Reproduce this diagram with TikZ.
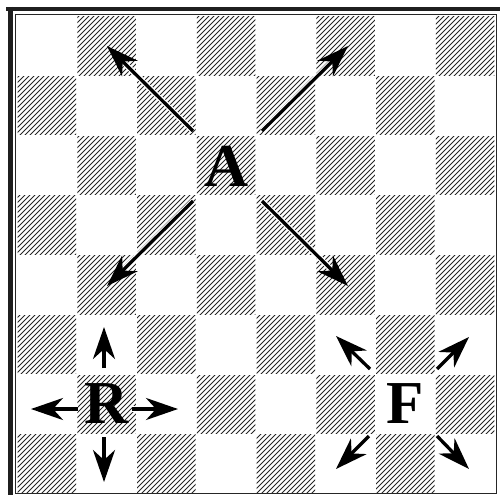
\documentclass[tikz,border=0pt]{standalone}
\usepackage{fontspec}
\setmainfont{Liberation Serif}
\usetikzlibrary{arrows.meta}
\tikzset{
  frameline/.style={draw=black!85, line width=1pt},
  thickframe/.style={draw=black!88, line width=4.5pt},
  hatch/.style={draw=black!85, line width=1.0pt},
  halo/.style={draw=white, line width=5.5pt, shorten >=24pt},
  movearrow/.style={draw=black, line width=3.3pt, -{Stealth[length=32pt, width=22pt, inset=10pt]}},
  piece/.style={inner sep=0pt, font=\fontsize{61}{61}\selectfont\bfseries}
}
\begin{document}
\begin{tikzpicture}[x=1pt,y=-1pt]
\useasboundingbox (0,0) rectangle (500,495);
\fill[white] (0,0) rectangle (500,495);
% hatched squares
\foreach \c in {0,...,7}{
  \foreach \r in {0,...,7}{
    \pgfmathtruncatemacro\odd{mod(\c+\r,2)}
    \ifnum\odd=1
      \pgfmathsetmacro\xa{17+\c*59.75}
      \pgfmathsetmacro\ya{16+\r*59.75}
      \pgfmathsetmacro\cs{5*floor((\xa+\ya)/5)}
      \begin{scope}
        \clip (\xa+0.6,\ya+0.6) rectangle ++(58.55,58.55);
        \foreach \k in {-1,...,25}{
          \pgfmathsetmacro\cc{\cs+\k*5}
          \draw[hatch] (\cc-\ya-61,\ya+61) -- (\cc-\ya+1,\ya-1);
        }
      \end{scope}
    \fi
  }
}
% frame
\draw[thickframe] (6,9) -- (500,9);
\draw[thickframe] (10.5,7) -- (10.5,495);
\draw[frameline] (15,14.5) -- (496,14.5) -- (496,493.5) -- (15,493.5) -- cycle;
% pieces
\node[piece] (A) at (227,166) {A};
\node[piece] (R) at (106.5,404) {R};
\node[piece] (F) at (405,404) {F};
% arrow endpoints
\coordinate (a1t) at (193,131); \coordinate (a1h) at (107,46);
\coordinate (a2t) at (262,131); \coordinate (a2h) at (348,46);
\coordinate (a3t) at (193,201); \coordinate (a3h) at (107,286);
\coordinate (a4t) at (262,201); \coordinate (a4h) at (348,286);
\coordinate (r1t) at (104,368); \coordinate (r1h) at (104,327);
\coordinate (r2t) at (78,409);  \coordinate (r2h) at (31,409);
\coordinate (r3t) at (132,409); \coordinate (r3h) at (178,409);
\coordinate (r4t) at (104,437); \coordinate (r4h) at (104,482);
\coordinate (f1t) at (370,369); \coordinate (f1h) at (336,336);
\coordinate (f2t) at (437,369); \coordinate (f2h) at (469,337);
\coordinate (f3t) at (369,436); \coordinate (f3h) at (336,469);
\coordinate (f4t) at (437,436); \coordinate (f4h) at (469,469);
\foreach \t/\h in {a1t/a1h,a2t/a2h,a3t/a3h,a4t/a4h,r1t/r1h,r2t/r2h,r3t/r3h,r4t/r4h,f1t/f1h,f2t/f2h,f3t/f3h,f4t/f4h}{
  \draw[halo] (\t) -- (\h);
}
\foreach \t/\h in {a1t/a1h,a2t/a2h,a3t/a3h,a4t/a4h,r1t/r1h,r2t/r2h,r3t/r3h,r4t/r4h,f1t/f1h,f2t/f2h,f3t/f3h,f4t/f4h}{
  \draw[movearrow] (\t) -- (\h);
}
\end{tikzpicture}
\end{document}
